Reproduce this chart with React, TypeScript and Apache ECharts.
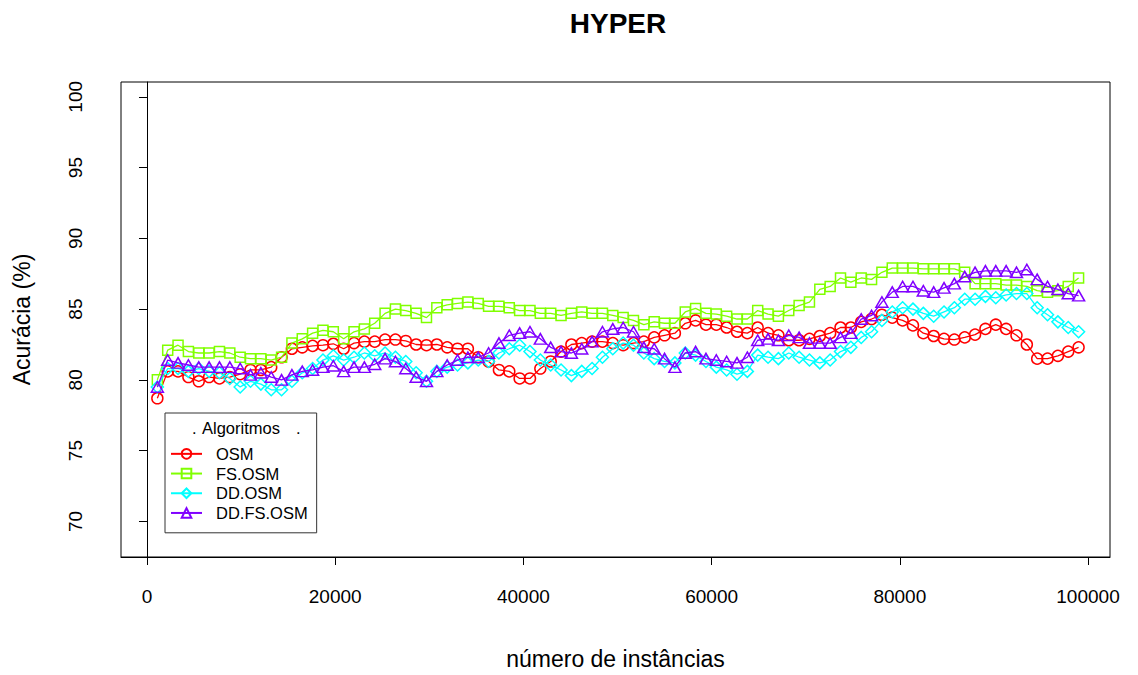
import React, { useEffect, useRef } from "react";
import * as echarts from "echarts";

const instances = [
  1100, 2200, 3300, 4400, 5500, 6600, 7700, 8800, 9900, 11000,
  12100, 13200, 14300, 15400, 16500, 17600, 18700, 19800, 20900, 22000,
  23100, 24200, 25300, 26400, 27500, 28600, 29700, 30800, 31900, 33000,
  34100, 35200, 36300, 37400, 38500, 39600, 40700, 41800, 42900, 44000,
  45100, 46200, 47300, 48400, 49500, 50600, 51700, 52800, 53900, 55000,
  56100, 57200, 58300, 59400, 60500, 61600, 62700, 63800, 64900, 66000,
  67100, 68200, 69300, 70400, 71500, 72600, 73700, 74800, 75900, 77000,
  78100, 79200, 80300, 81400, 82500, 83600, 84700, 85800, 86900, 88000,
  89100, 90200, 91300, 92400, 93500, 94600, 95700, 96800, 97900, 99000,
];

const osm = [
  78.7, 80.6, 80.6, 80.2, 79.9, 80.2, 80.1, 80.2, 80.4, 80.7,
  80.7, 80.9, 81.6, 82.2, 82.3, 82.4, 82.45, 82.55, 82.2, 82.6,
  82.7, 82.7, 82.85, 82.85, 82.75, 82.5, 82.45, 82.5, 82.3, 82.2,
  82.2, 81.6, 81.3, 80.7, 80.6, 80.1, 80.1, 80.8, 81.3, 82.0,
  82.5, 82.6, 82.7, 82.7, 82.6, 82.45, 82.6, 82.7, 83.0, 83.15,
  83.3, 84.0, 84.2, 83.9, 83.9, 83.7, 83.4, 83.3, 83.7, 83.3,
  83.15, 82.8, 82.8, 82.9, 83.1, 83.3, 83.7, 83.7, 84.1, 84.3,
  84.6, 84.4, 84.2, 83.85, 83.3, 83.1, 82.9, 82.85, 83.0, 83.2,
  83.6, 83.9, 83.6, 83.15, 82.5, 81.5, 81.5, 81.7, 82.0, 82.3,
];

const fsOsm = [
  80.0, 82.1, 82.45, 82.0, 81.9, 81.9, 82.0, 81.9, 81.6, 81.5,
  81.5, 81.4, 81.6, 82.6, 82.9, 83.3, 83.5, 83.4, 82.9, 83.4,
  83.6, 84.0, 84.7, 85.0, 84.9, 84.7, 84.4, 85.1, 85.3, 85.4,
  85.5, 85.4, 85.2, 85.2, 85.1, 84.9, 84.9, 84.7, 84.7, 84.55,
  84.7, 84.8, 84.7, 84.7, 84.55, 84.4, 84.2, 83.9, 84.1, 84.0,
  84.0, 84.8, 85.05, 84.7, 84.65, 84.5, 84.3, 84.3, 84.9, 84.65,
  84.5, 84.9, 85.25, 85.5, 86.4, 86.6, 87.2, 86.9, 87.2, 87.1,
  87.6, 87.9, 87.9, 87.9, 87.85, 87.85, 87.85, 87.85, 87.6, 86.8,
  86.8, 86.8, 86.7, 86.7, 86.6, 86.3, 86.2, 86.3, 86.6, 87.2,
];

const ddOsm = [
  79.5, 80.8, 80.8, 80.6, 80.8, 80.6, 80.5, 80.1, 79.5, 79.9,
  79.7, 79.3, 79.3, 79.9, 80.5, 80.8, 81.4, 81.7, 81.4, 81.6,
  81.9, 81.7, 81.9, 81.6, 81.3, 80.5, 79.9, 80.6, 80.9, 81.05,
  81.2, 81.4, 81.3, 81.9, 82.2, 82.45, 82.0, 81.4, 81.05, 80.7,
  80.3, 80.6, 80.8, 81.6, 82.2, 82.6, 82.45, 81.9, 81.5, 81.3,
  81.2, 81.9, 81.75, 81.3, 80.9, 80.7, 80.4, 80.6, 81.75, 81.6,
  81.5, 81.9, 81.6, 81.4, 81.2, 81.4, 82.0, 82.3, 83.0, 83.4,
  84.2, 84.8, 85.1, 85.0, 84.7, 84.5, 84.8, 85.1, 85.7, 85.7,
  85.9, 85.8, 86.0, 86.1, 86.1, 85.1, 84.6, 84.1, 83.7, 83.4,
];

const ddFsOsm = [
  79.5, 81.4, 81.2, 81.05, 80.9, 80.9, 80.9, 80.9, 80.8, 80.35,
  80.5, 80.2, 80.0, 80.35, 80.6, 80.7, 80.9, 81.0, 80.6, 80.9,
  80.9, 81.1, 81.5, 81.3, 80.8, 80.2, 79.9, 80.6, 81.05, 81.4,
  81.6, 81.6, 81.9, 82.6, 83.15, 83.3, 83.4, 82.9, 82.3, 82.0,
  81.9, 82.2, 82.7, 83.4, 83.6, 83.7, 83.4, 82.3, 82.2, 81.5,
  80.9, 81.9, 82.0, 81.5, 81.4, 81.3, 81.2, 81.6, 82.8, 82.9,
  82.8, 83.15, 83.0, 82.6, 82.6, 82.6, 83.0, 83.3, 84.3, 84.55,
  85.5, 86.2, 86.6, 86.6, 86.3, 86.2, 86.5, 86.8, 87.3, 87.6,
  87.7, 87.7, 87.7, 87.6, 87.8, 87.1, 86.6, 86.4, 86.1, 85.95,
];

const seriesNames = ["OSM", "FS.OSM", "DD.OSM", "DD.FS.OSM"];
const seriesColors = ["#FF0000", "#80FF00", "#00FFFF", "#8000FF"];
const xTicks = [0, 20000, 40000, 60000, 80000, 100000];
const yTicks = [70, 75, 80, 85, 90, 95, 100];

export default function App() {
  const ref = useRef<HTMLDivElement>(null);
  useEffect(() => {
    document.body.style.margin = "0";
    const chart = echarts.init(ref.current!, null, { renderer: "svg" });
    const font = "'Liberation Sans', Arial, Helvetica, sans-serif";
    const values = [osm, fsOsm, ddOsm, ddFsOsm];
    const symbols = ["circle", "rect", "diamond", "triangle"];
    const sizes: any[] = [11, 10, 12, [12, 10.5]];
    chart.setOption({
      animation: false,
      backgroundColor: "#ffffff",
      title: {
        text: "HYPER",
        left: 618,
        top: 9,
        padding: 0,
        textAlign: "center",
        textStyle: { fontFamily: font, fontWeight: "bold", fontSize: 28, color: "#000" },
      },
      grid: {
        left: 121,
        top: 82,
        width: 989,
        height: 480,
        show: true,
        borderColor: "#000",
        borderWidth: 1,
        backgroundColor: "transparent",
      },
      xAxis: {
        type: "value",
        min: -2763,
        max: 102338,
        name: "número de instâncias",
        nameLocation: "middle",
        nameGap: 90,
        nameTextStyle: { fontFamily: font, fontSize: 23, color: "#000" },
        axisLine: { show: true, lineStyle: { color: "#000", width: 1 } },
        axisTick: { show: true, inside: false, length: 8, customValues: xTicks, lineStyle: { color: "#000", width: 1 } },
        axisLabel: {
          customValues: xTicks,
          margin: 30,
          fontFamily: font,
          fontSize: 19,
          color: "#000",
          formatter: (v: number) => String(v),
        },
        splitLine: { show: false },
      },
      yAxis: {
        type: "value",
        min: 67.483,
        max: 101.049,
        name: "Acurácia (%)",
        nameLocation: "middle",
        nameRotate: 90,
        nameGap: 88,
        nameTextStyle: { fontFamily: font, fontSize: 23, color: "#000" },
        axisLine: { show: true, lineStyle: { color: "#000", width: 1 } },
        axisTick: { show: true, inside: false, length: 8, customValues: yTicks, lineStyle: { color: "#000", width: 1 } },
        axisLabel: {
          customValues: yTicks,
          rotate: 90,
          margin: 36,
          fontFamily: font,
          fontSize: 19,
          color: "#000",
          formatter: (v: number) => String(v),
        },
        splitLine: { show: false },
      },
      legend: {
        data: seriesNames,
        orient: "vertical",
        left: 165,
        top: 413,
        padding: [31, 9, 10, 5],
        itemWidth: 31,
        itemHeight: 12,
        itemGap: 0,
        backgroundColor: "#fff",
        borderColor: "#333",
        borderWidth: 1,
        borderRadius: 0,
        selectedMode: false,
        textStyle: { fontFamily: font, fontSize: 16.5, color: "#000", lineHeight: 19.7, padding: [0, 0, 0, 9] },
      },
      graphic: [
        { type: "text", x: 192, y: 428, z: 100, style: { text: ".", fill: "#000", font: `16.5px ${font}`, verticalAlign: "middle", align: "left" } },
        { type: "text", x: 202, y: 428, z: 100, style: { text: "Algoritmos", fill: "#000", font: `16.5px ${font}`, verticalAlign: "middle", align: "left" } },
        { type: "text", x: 296, y: 428, z: 100, style: { text: ".", fill: "#000", font: `16.5px ${font}`, verticalAlign: "middle", align: "left" } },
      ],
      series: values.map((v, k) => ({
        name: seriesNames[k],
        type: "line",
        data: instances.map((x, i) => [x, v[i]]),
        symbol: symbols[k],
        symbolSize: sizes[k],
        showAllSymbol: true,
        silent: true,
        emphasis: { disabled: true },
        lineStyle: { color: seriesColors[k], width: 1.3 },
        itemStyle: { color: "rgba(0,0,0,0)", borderColor: seriesColors[k], borderWidth: 1.5 },
        z: 2 + k,
      })),
    });
    return () => chart.dispose();
  }, []);
  return <div ref={ref} style={{ width: 1138, height: 675 }} />;
}
